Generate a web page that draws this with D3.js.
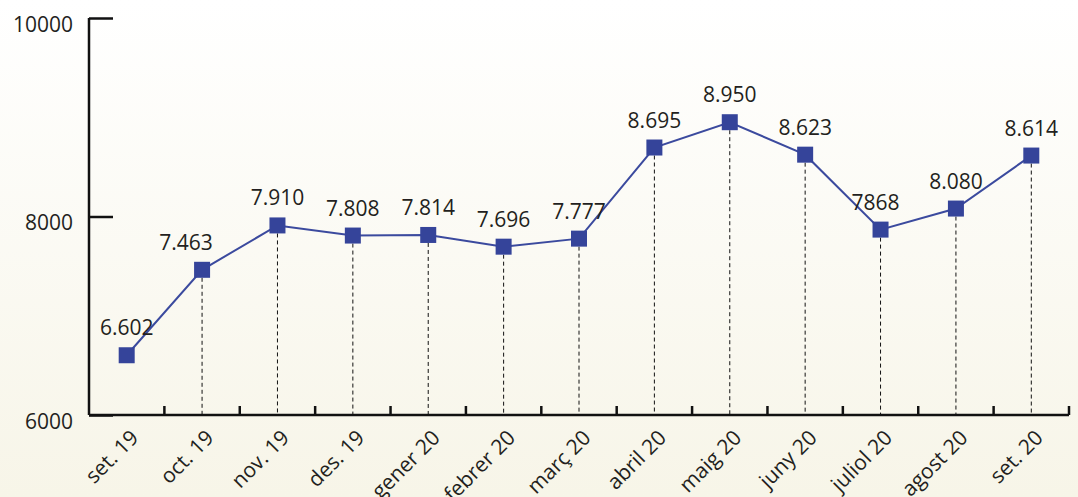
<!DOCTYPE html>
<html>
<head>
<meta charset="utf-8">
<script src="https://cdn.jsdelivr.net/npm/d3@7"></script>
<style>
  html, body { margin: 0; padding: 0; background: #fff; }
  svg { display: block; }
  text { font-family: "Open Sans", sans-serif; fill: #231f20; }
</style>
</head>
<body>
<svg id="chart" width="1078" height="497"></svg>
<script>
var months = ["set. 19", "oct. 19", "nov. 19", "des. 19", "gener 20", "febrer 20", "març 20",
              "abril 20", "maig 20", "juny 20", "juliol 20", "agost 20", "set. 20"];
var values = [6602, 7463, 7910, 7808, 7814, 7696, 7777, 8695, 8950, 8623, 7868, 8080, 8614];
var valueLabels = ["6.602", "7.463", "7.910", "7.808", "7.814", "7.696", "7.777",
                   "8.695", "8.950", "8.623", "7868", "8.080", "8.614"];
var yTicks = [6000, 8000, 10000];

var W = 1078, H = 497;
var plotLeft = 89, plotRight = 1069, plotTop = 18, plotBottom = 415;

var svg = d3.select("#chart");

// background, white fading to cream
var defs = svg.append("defs");
var grad = defs.append("linearGradient").attr("id", "bg").attr("x1", 0).attr("y1", 0).attr("x2", 0).attr("y2", 1);
grad.append("stop").attr("offset", "0%").attr("stop-color", "#ffffff");
grad.append("stop").attr("offset", "100%").attr("stop-color", "#f7f5e8");
svg.append("rect").attr("width", W).attr("height", H).attr("fill", "url(#bg)");

var x = d3.scaleBand().domain(months).range([plotLeft, plotRight]).padding(0);
var y = d3.scaleLinear().domain([6000, 10000]).range([plotBottom, plotTop]);
var cx = function (d) { return x(d) + x.bandwidth() / 2; };

// dashed drop lines (not for the first month)
svg.append("g").selectAll("line")
    .data(months.slice(1))
    .enter().append("line")
    .attr("x1", cx).attr("x2", cx)
    .attr("y1", function (d) { return y(values[months.indexOf(d)]) + 8; })
    .attr("y2", plotBottom)
    .attr("stroke", "#111")
    .attr("stroke-width", 1)
    .attr("stroke-dasharray", "4,3");

// y axis
var yAxis = svg.append("g")
    .attr("transform", "translate(" + plotLeft + ",0)")
    .call(d3.axisLeft(y).tickValues(yTicks).tickFormat(d3.format("d")).tickSize(-24).tickPadding(16));
yAxis.select(".domain").attr("d", "M0," + plotTop + "V" + plotBottom).attr("stroke", "#111").attr("stroke-width", 2.5);
yAxis.selectAll(".tick line").attr("stroke", "#111").attr("stroke-width", 2.5);
yAxis.selectAll(".tick text").attr("dy", "0.62em").style("font-size", "21px").style("font-family", "'Open Sans', sans-serif").attr("fill", "#231f20");

// x axis
var xAxis = svg.append("g")
    .attr("transform", "translate(0," + plotBottom + ")")
    .call(d3.axisBottom(x).tickSize(0).tickPadding(0));
xAxis.select(".domain").attr("d", "M" + plotLeft + ",0H" + plotRight).attr("stroke", "#111").attr("stroke-width", 2.5);
xAxis.selectAll(".tick text")
    .style("font-size", "21px")
    .style("font-family", "'Open Sans', sans-serif")
    .attr("fill", "#231f20")
    .attr("text-anchor", "end")
    .attr("dy", null)
    .attr("y", 0)
    .attr("transform", "translate(13,24) rotate(-45)");

// band boundary ticks, pointing up
svg.append("g").selectAll("line")
    .data(months)
    .enter().append("line")
    .attr("x1", function (d) { return x(d) + x.bandwidth(); })
    .attr("x2", function (d) { return x(d) + x.bandwidth(); })
    .attr("y1", plotBottom)
    .attr("y2", plotBottom - 9)
    .attr("stroke", "#111")
    .attr("stroke-width", 2.5);

// series line
var line = d3.line()
    .x(function (d, i) { return cx(months[i]); })
    .y(function (d) { return y(d); });
svg.append("path")
    .datum(values)
    .attr("d", line)
    .attr("fill", "none")
    .attr("stroke", "#3b4a9e")
    .attr("stroke-width", 2);

// square markers
var s = 16;
svg.append("g").selectAll("rect")
    .data(values)
    .enter().append("rect")
    .attr("x", function (d, i) { return cx(months[i]) - s / 2; })
    .attr("y", function (d) { return y(d) - s / 2; })
    .attr("width", s).attr("height", s)
    .attr("fill", "#35449a");

// value labels; the oct. 19 one sits left of its marker to clear the rising line
svg.append("g").selectAll("text")
    .data(values)
    .enter().append("text")
    .attr("x", function (d, i) { return cx(months[i]) + (i === 1 ? -16 : (i === 10 ? -5 : 0)); })
    .attr("y", function (d) { return y(d) - 20; })
    .attr("text-anchor", "middle")
    .style("font-size", "21px")
    .text(function (d, i) { return valueLabels[i]; });
</script>
</body>
</html>
